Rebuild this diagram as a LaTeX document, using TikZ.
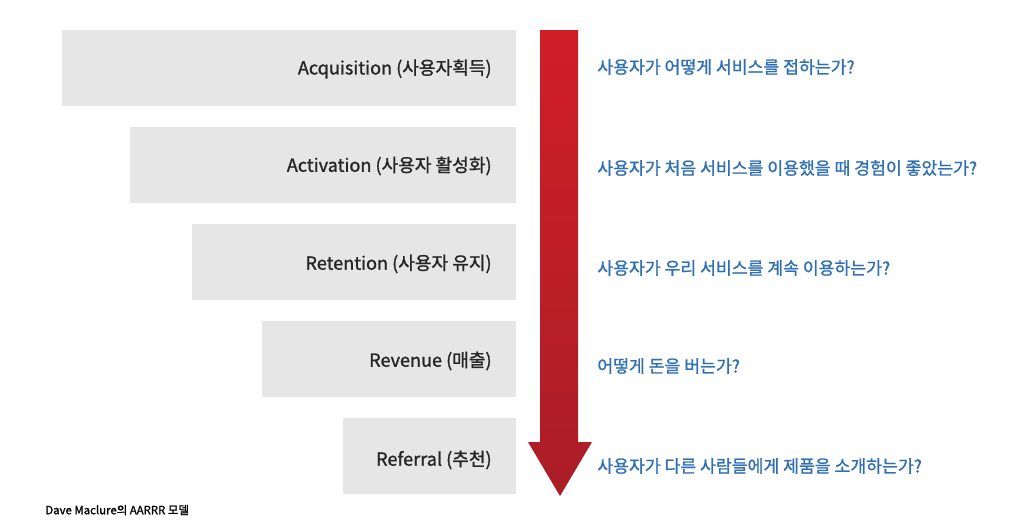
\documentclass[tikz,border=0pt]{standalone}
\usepackage{fontspec}
\setmainfont{Noto Sans CJK KR}[AutoFakeBold=1.2]
\definecolor{boxgray}{HTML}{E6E6E6}
\definecolor{arrowred}{HTML}{C8232E}
\definecolor{qblue}{HTML}{2F6FB3}
\begin{document}
\begin{tikzpicture}[x=0.02cm,y=-0.02cm,
	stage/.style={fill=boxgray, anchor=north east, minimum height=1.52cm, inner sep=0pt},
	stagetext/.style={anchor=east, inner sep=0pt, font=\fontsize{10.3}{12}\selectfont\bfseries, text=black!85},
	question/.style={anchor=west, inner sep=0pt, font=\fontsize{9.8}{12}\selectfont\bfseries, text=qblue}]
	\useasboundingbox (0,0) rectangle (1024,531);

	\node[stage, minimum width=9.08cm] (acq) at (516,30) {};
	\node[stage, minimum width=7.72cm] (act) at (516,127) {};
	\node[stage, minimum width=6.48cm] (ret) at (516,224) {};
	\node[stage, minimum width=5.08cm] (rev) at (516,321) {};
	\node[stage, minimum width=3.46cm] (ref) at (516,418) {};

	\node[stagetext] (acqt) at (492,69) {Acquisition (사용자획득)};
	\node[stagetext] (actt) at (492,166) {Activation (사용자 활성화)};
	\node[stagetext] (rett) at (492,264) {Retention (사용자 유지)};
	\node[stagetext] (revt) at (492,361) {Revenue (매출)};
	\node[stagetext] (reft) at (492,460) {Referral (추천)};

	\shade[top color=arrowred!85!red, bottom color=arrowred!85!black]
		(540,30) -- (578,30) -- (578,442) -- (592,442) -- (560,496)
		-- (528,442) -- (540,442) -- cycle;

	\node[question] (acqq) at (597,67) {사용자가 어떻게 서비스를 접하는가?};
	\node[question] (actq) at (597,168) {사용자가 처음 서비스를 이용했을 때 경험이 좋았는가?};
	\node[question] (retq) at (597,268) {사용자가 우리 서비스를 계속 이용하는가?};
	\node[question] (revq) at (597,366) {어떻게 돈을 버는가?};
	\node[question] (refq) at (597,466) {사용자가 다른 사람들에게 제품을 소개하는가?};

	\node[anchor=west, inner sep=0pt, font=\fontsize{6.5}{8}\selectfont\bfseries] (note) at (45,510) {Dave Maclure의 AARRR 모델};
\end{tikzpicture}
\end{document}
